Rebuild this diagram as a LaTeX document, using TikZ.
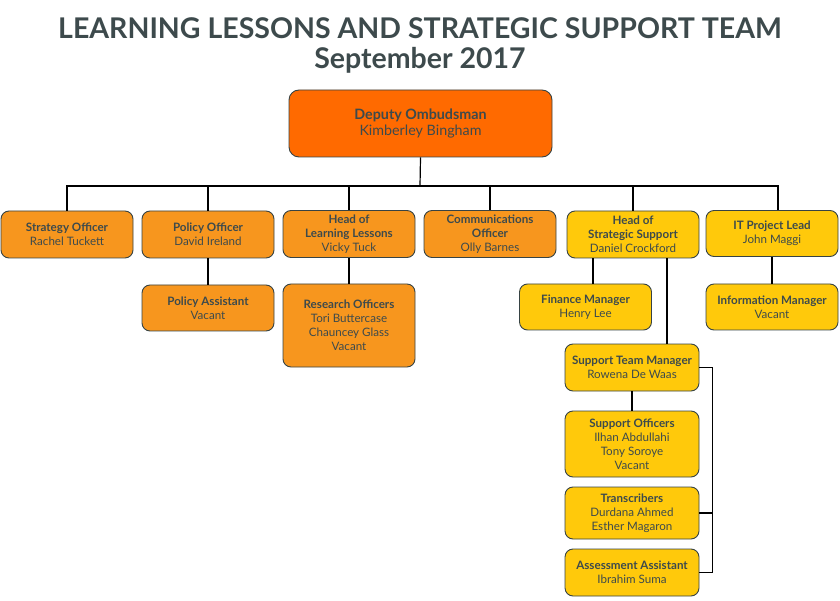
\documentclass[tikz,border=0pt]{standalone}
\usepackage{fontspec}
\setmainfont{Lato}
\usetikzlibrary{positioning}

\definecolor{inkgray}{HTML}{3D4A4C}
\definecolor{deputyorange}{HTML}{FF6A00}
\definecolor{boxorange}{HTML}{F7961E}
\definecolor{boxyellow}{HTML}{FFC90B}

\newcommand{\role}[2]{\textbf{#1}\\#2}

\begin{document}
\begin{tikzpicture}[x=1pt, y=-1pt, line width=1.2pt,
  every node/.style={text=inkgray, font=\fontsize{11.6}{14}\selectfont},
  post/.style={draw=inkgray!90!black, line width=0.9pt, rounded corners=8pt,
    align=center, inner sep=1pt, minimum width=132pt, minimum height=47pt},
  orangepost/.style={post, fill=boxorange},
  yellowpost/.style={post, fill=boxyellow},
  headline/.style={font=\fontsize{28.5}{32}\selectfont\bfseries, text=inkgray},
]
  \useasboundingbox (0,0) rectangle (840,601);

  % title
  \node[headline] (title) at (420,28) {LEARNING LESSONS AND STRATEGIC SUPPORT TEAM};
  \node[headline] (date) at (420,60) {September 2017};

  % top
  \node[post, fill=deputyorange, rounded corners=10pt, minimum width=263pt, minimum height=67pt,
    font=\fontsize{14.3}{16}\selectfont] (deputy) at (420.5,123.5) {\role{Deputy Ombudsman}{Kimberley Bingham}};

  % first row
  \node[orangepost] (strat) at (67,234.5) {\role{Strategy Officer}{Rachel Tuckett}};
  \node[orangepost] (policy) at (208,234.5) {\role{Policy Officer}{David Ireland}};
  \node[orangepost] (headll) at (349,234) {\textbf{Head of}\\\textbf{Learning Lessons}\\Vicky Tuck};
  \node[orangepost] (comms) at (490,234) {\textbf{Communications}\\\textbf{Officer}\\Olly Barnes};
  \node[yellowpost] (headss) at (633,234.5) {\textbf{Head of}\\\textbf{Strategic Support}\\Daniel Crockford};
  \node[yellowpost, minimum height=46pt] (itlead) at (772,233.5) {\role{IT Project Lead}{John Maggi}};

  % second row
  \node[orangepost, minimum height=46pt] (polassist) at (208,308) {\role{Policy Assistant}{Vacant}};
  \node[orangepost, minimum height=83pt] (research) at (349,325.5) {\textbf{Research Officers}\\Tori Buttercase\\Chauncey Glass\\Vacant};
  \node[yellowpost, minimum height=46pt] (finance) at (585.5,307) {\role{Finance Manager}{Henry Lee}};
  \node[yellowpost, minimum height=46pt] (infoman) at (772,307) {\role{Information Manager}{Vacant}};

  % support team
  \node[yellowpost, minimum width=134pt] (stm) at (632,367.5) {\role{Support Team Manager}{Rowena De Waas}};
  \node[yellowpost, minimum width=134pt, minimum height=66pt] (supoff) at (632,444) {\textbf{Support Officers}\\Ilhan Abdullahi\\Tony Soroye\\Vacant};
  \node[yellowpost, minimum width=134pt, minimum height=52pt] (transc) at (632,513) {\textbf{Transcribers}\\Durdana Ahmed\\Esther Magaron};
  \node[yellowpost, minimum width=134pt] (assess) at (632,572.5) {\role{Assessment Assistant}{Ibrahim Suma}};

  % connectors
  \coordinate (bus) at (420,186);
  \draw (deputy.south) -- (bus);
  \foreach \n in {strat,policy,headll,comms,headss}
    \draw (\n.north) |- (bus);
  \draw ([xshift=6pt]itlead.north) |- (bus);
  \draw (policy) -- (polassist);
  \draw (headll) -- (research);
  \draw (itlead) -- (infoman);
  \draw ([xshift=7.5pt]finance.north) -- ([xshift=7.5pt]finance.north |- headss.south);
  \draw ([xshift=34pt]headss.south) -- ([xshift=35pt]stm.north);
  \draw (stm) -- (supoff);
  \coordinate (rail) at ([xshift=13pt]stm.east);
  \draw (stm.east) -- (rail) |- (assess.east);
  \draw (transc.east) -- (transc.east -| rail);
\end{tikzpicture}
\end{document}
